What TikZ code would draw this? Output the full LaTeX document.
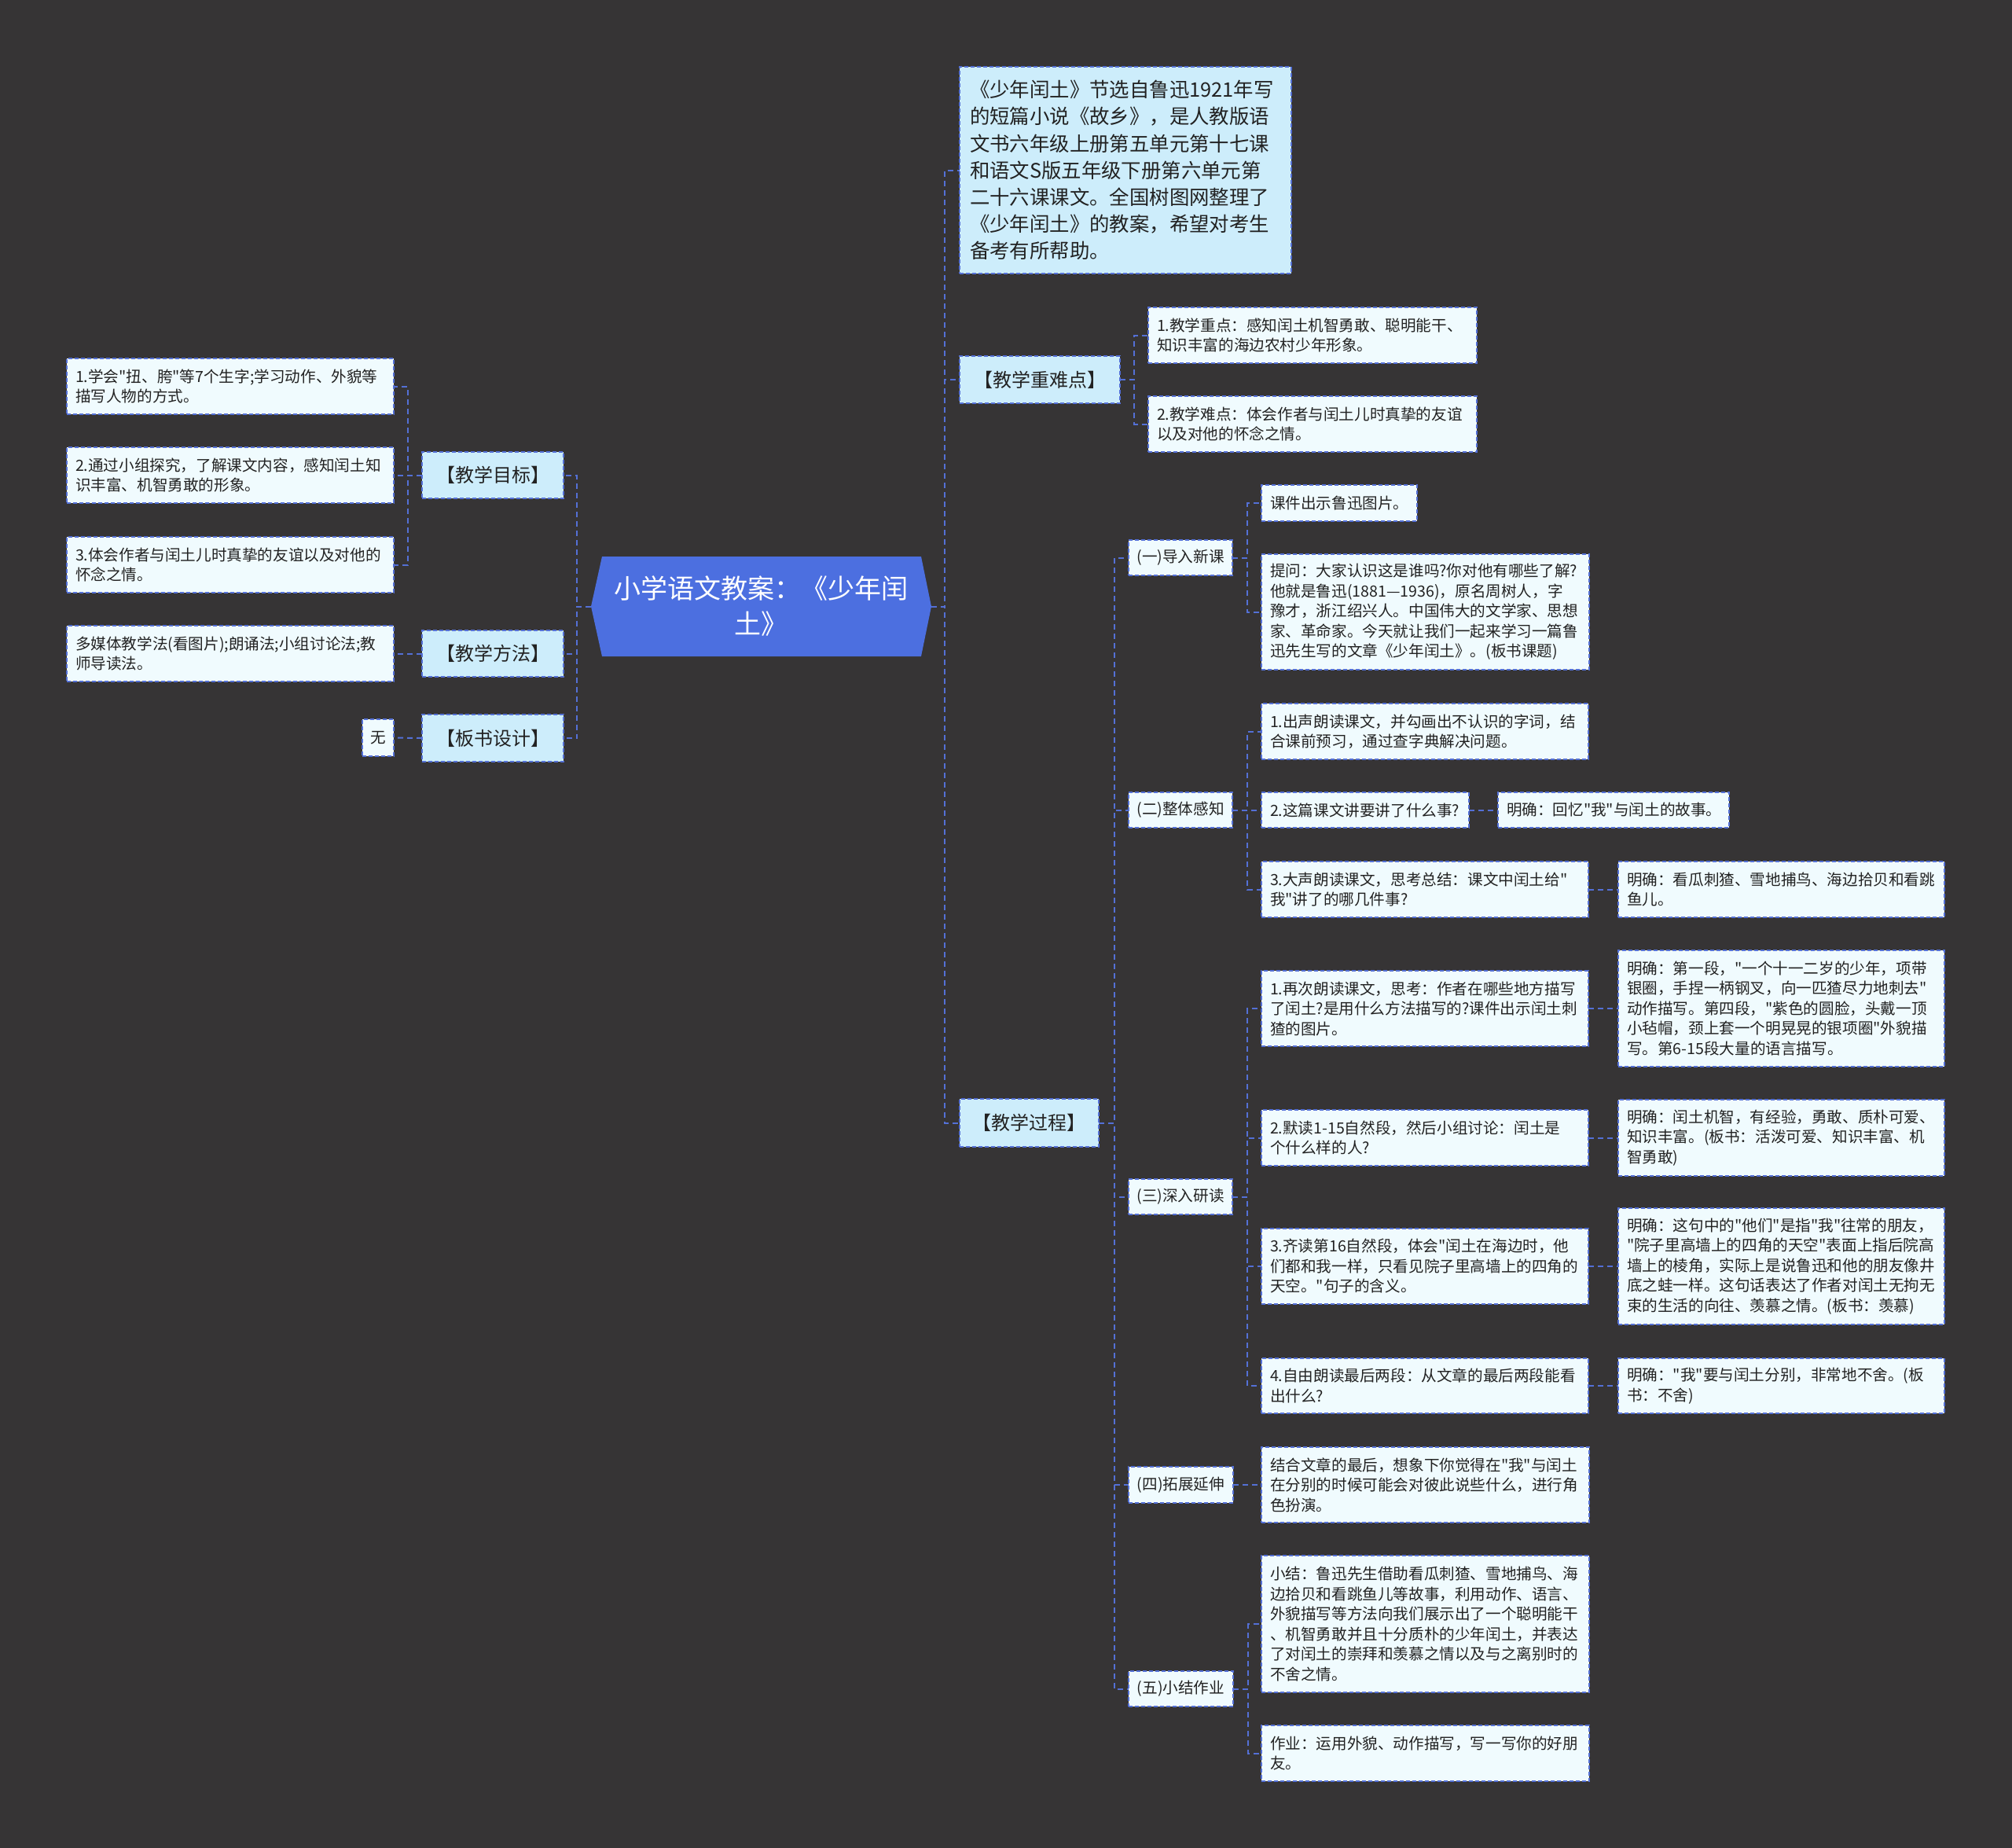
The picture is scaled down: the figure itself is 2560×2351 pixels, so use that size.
\documentclass[tikz,border=0pt]{standalone}
\usepackage{fontspec}
\setmainfont{Noto Sans CJK SC}[Ligatures=TeXOff]
\hyphenpenalty=10000
\exhyphenpenalty=10000
\pgfdeclarelayer{bglayer}
\pgfsetlayers{bglayer,main}
\definecolor{bgc}{RGB}{54,52,53}
\definecolor{linec}{RGB}{84,112,214}
\definecolor{rootc}{RGB}{76,111,224}
\definecolor{lvfill}{RGB}{205,237,251}
\definecolor{leaffill}{RGB}{240,251,254}
\definecolor{txt}{RGB}{34,34,34}
\tikzset{
  conn/.style={draw=linec, line width=2pt, dash pattern=on 7pt off 5pt},
  boxbase/.style={draw=linec, line width=2pt, dash pattern=on 5pt off 3pt, text=txt, anchor=north west, inner ysep=0pt, outer sep=0pt},
  leaf/.style={boxbase, fill=leaffill, font=\fontsize{19.6}{25.5}\selectfont, align=left, inner xsep=11pt},
  descn/.style={boxbase, fill=lvfill, font=\fontsize{25.4}{34.2}\selectfont, align=left, inner xsep=13pt},
  lab/.style={boxbase, fill=lvfill, font=\fontsize{24}{30}\selectfont, align=center, inner xsep=0pt},
  subn/.style={boxbase, fill=leaffill, font=\fontsize{19.6}{25.5}\selectfont, align=center, inner xsep=0pt},
  rootn/.style={text=white, font=\fontsize{34}{45}\selectfont, align=center, minimum width=433pt, minimum height=127pt, inner sep=0pt, outer sep=0pt}
}
\begin{document}
\begin{tikzpicture}[x=1pt,y=-1pt]
\begin{pgfonlayer}{bglayer}
\fill[bgc] (0,0) rectangle (2560,2351);
\end{pgfonlayer}
\useasboundingbox (0,0) rectangle (2560,2351);

% root
\node[rootn] (root) at (968.5,771.5) {小学语文教案：《少年闰\\土》};
\begin{pgfonlayer}{bglayer}
\fill[rootc] (root.west) -- ([xshift=14pt]root.north west) -- ([xshift=-13pt]root.north east) -- (root.east) -- ([xshift=-13pt]root.south east) -- ([xshift=14pt]root.south west) -- cycle;
\end{pgfonlayer}

% left side
\node[lab, minimum width=180pt, minimum height=59pt] (mb) at (537,575) {【教学目标】};
\node[lab, minimum width=180pt, minimum height=59pt] (ff) at (537,802) {【教学方法】};
\node[lab, minimum width=180pt, minimum height=60pt] (bs) at (537,909) {【板书设计】};
\node[leaf, text width=394pt, minimum height=71pt] (mb1) at (85,456) {1.学会"扭、胯"等7个生字;学习动作、外貌等\\描写人物的方式。};
\node[leaf, text width=394pt, minimum height=71pt] (mb2) at (85,569) {2.通过小组探究，了解课文内容，感知闰土知\\识丰富、机智勇敢的形象。};
\node[leaf, text width=394pt, minimum height=71pt] (mb3) at (85,683) {3.体会作者与闰土儿时真挚的友谊以及对他的\\怀念之情。};
\node[leaf, text width=394pt, minimum height=71pt] (ff1) at (85,796) {多媒体教学法(看图片);朗诵法;小组讨论法;教\\师导读法。};
\node[subn, minimum width=40pt, minimum height=47pt] (bs1) at (461,915) {无};

% right side level 1
\node[descn, text width=396pt, minimum height=263pt] (desc) at (1221,85) {《少年闰土》节选自鲁迅1921年写\\的短篇小说《故乡》，是人教版语\\文书六年级上册第五单元第十七课\\和语文S版五年级下册第六单元第\\二十六课课文。全国树图网整理了\\《少年闰土》的教案，希望对考生\\备考有所帮助。};
\node[lab, minimum width=204pt, minimum height=60pt] (zdn) at (1221,453) {【教学重难点】};
\node[lab, minimum width=177pt, minimum height=61pt] (gc) at (1221,1398) {【教学过程】};

\node[leaf, text width=396pt, minimum height=71pt] (zd1) at (1461,391) {1.教学重点：感知闰土机智勇敢、聪明能干、\\知识丰富的海边农村少年形象。};
\node[leaf, text width=396pt, minimum height=71pt] (zd2) at (1461,504) {2.教学难点：体会作者与闰土儿时真挚的友谊\\以及对他的怀念之情。};

% teaching process
\node[subn, minimum width=132pt, minimum height=45pt] (s1) at (1436,687) {(一)导入新课};
\node[subn, minimum width=132pt, minimum height=45pt] (s2) at (1436,1008) {(二)整体感知};
\node[subn, minimum width=132pt, minimum height=45pt] (s3) at (1436,1500) {(三)深入研读};
\node[subn, minimum width=133pt, minimum height=46pt] (s4) at (1436,1866) {(四)拓展延伸};
\node[subn, minimum width=133pt, minimum height=45pt] (s5) at (1436,2126) {(五)小结作业};

\node[leaf, text width=176pt, minimum height=46pt] (s1a) at (1605,617) {课件出示鲁迅图片。};
\node[leaf, text width=395pt, minimum height=147pt] (s1b) at (1605,705) {提问：大家认识这是谁吗?你对他有哪些了解?\\他就是鲁迅(1881—1936)，原名周树人，字\\豫才，浙江绍兴人。中国伟大的文学家、思想\\家、革命家。今天就让我们一起来学习一篇鲁\\迅先生写的文章《少年闰土》。(板书课题)};

\node[leaf, text width=394pt, minimum height=71pt] (s2a) at (1605,895) {1.出声朗读课文，并勾画出不认识的字词，结\\合课前预习，通过查字典解决问题。};
\node[leaf, text width=242pt, minimum height=45pt] (s2b) at (1605,1008) {2.这篇课文讲要讲了什么事?};
\node[leaf, text width=272pt, minimum height=45pt] (s2bm) at (1906,1008) {明确：回忆"我"与闰土的故事。};
\node[leaf, text width=394pt, minimum height=71pt] (s2c) at (1605,1096) {3.大声朗读课文，思考总结：课文中闰土给"\\我"讲了的哪几件事?};
\node[leaf, text width=393pt, minimum height=71pt] (s2cm) at (2059,1096) {明确：看瓜刺猹、雪地捕鸟、海边拾贝和看跳\\鱼儿。};

\node[leaf, text width=394pt, minimum height=96pt] (s3a) at (1605,1235) {1.再次朗读课文，思考：作者在哪些地方描写\\了闰土?是用什么方法描写的?课件出示闰土刺\\猹的图片。};
\node[leaf, text width=393pt, minimum height=148pt] (s3am) at (2059,1209) {明确：第一段，"一个十一二岁的少年，项带\\银圈，手捏一柄钢叉，向一匹猹尽力地刺去"\\动作描写。第四段，"紫色的圆脸，头戴一顶\\小毡帽，颈上套一个明晃晃的银项圈"外貌描\\写。第6-15段大量的语言描写。};
\node[leaf, text width=394pt, minimum height=71pt] (s3b) at (1605,1412) {2.默读1-15自然段，然后小组讨论：闰土是\\个什么样的人?};
\node[leaf, text width=393pt, minimum height=97pt] (s3bm) at (2059,1399) {明确：闰土机智，有经验，勇敢、质朴可爱、\\知识丰富。(板书：活泼可爱、知识丰富、机\\智勇敢)};
\node[leaf, text width=394pt, minimum height=96pt] (s3c) at (1605,1563) {3.齐读第16自然段，体会"闰土在海边时，他\\们都和我一样，只看见院子里高墙上的四角的\\天空。"句子的含义。};
\node[leaf, text width=393pt, minimum height=148pt] (s3cm) at (2059,1537) {明确：这句中的"他们"是指"我"往常的朋友，\\"院子里高墙上的四角的天空"表面上指后院高\\墙上的棱角，实际上是说鲁迅和他的朋友像井\\底之蛙一样。这句话表达了作者对闰土无拘无\\束的生活的向往、羡慕之情。(板书：羡慕)};
\node[leaf, text width=394pt, minimum height=70pt] (s3d) at (1605,1728) {4.自由朗读最后两段：从文章的最后两段能看\\出什么?};
\node[leaf, text width=393pt, minimum height=70pt] (s3dm) at (2059,1728) {明确："我"要与闰土分别，非常地不舍。(板\\书：不舍)};

\node[leaf, text width=395pt, minimum height=96pt] (s4a) at (1605,1841) {结合文章的最后，想象下你觉得在"我"与闰土\\在分别的时候可能会对彼此说些什么，进行角\\色扮演。};
\node[leaf, text width=395pt, minimum height=174pt] (s5a) at (1605,1979) {小结：鲁迅先生借助看瓜刺猹、雪地捕鸟、海\\边拾贝和看跳鱼儿等故事，利用动作、语言、\\外貌描写等方法向我们展示出了一个聪明能干\\、机智勇敢并且十分质朴的少年闰土，并表达\\了对闰土的崇拜和羡慕之情以及与之离别时的\\不舍之情。};
\node[leaf, text width=395pt, minimum height=71pt] (s5b) at (1605,2195) {作业：运用外貌、动作描写，写一写你的好朋\\友。};

% connectors
\foreach \c in {desc,zdn,gc} \draw[conn] (root.east) -- ++(17,0) |- (\c.west);
\foreach \c in {mb,ff,bs} \draw[conn] (root.west) -- ++(-18,0) |- (\c.east);
\foreach \c in {mb1,mb2,mb3} \draw[conn] (mb.west) -- ++(-18,0) |- (\c.east);
\draw[conn] (ff.west) -- (ff1.east);
\draw[conn] (bs.west) -- (bs1.east);
\foreach \c in {zd1,zd2} \draw[conn] (zdn.east) -- ++(18,0) |- (\c.west);
\foreach \c in {s1,s2,s3,s4,s5} \draw[conn] (gc.east) -- ++(20,0) |- (\c.west);
\foreach \c in {s1a,s1b} \draw[conn] (s1.east) -- ++(19,0) |- (\c.west);
\foreach \c in {s2a,s2b,s2c} \draw[conn] (s2.east) -- ++(19,0) |- (\c.west);
\foreach \c in {s3a,s3b,s3c,s3d} \draw[conn] (s3.east) -- ++(19,0) |- (\c.west);
\draw[conn] (s4.east) -- ++(19,0) |- (s4a.west);
\foreach \c in {s5a,s5b} \draw[conn] (s5.east) -- ++(19,0) |- (\c.west);
\draw[conn] (s2b.east) -- (s2bm.west);
\draw[conn] (s2c.east) -- (s2cm.west);
\draw[conn] (s3a.east) -- (s3am.west);
\draw[conn] (s3b.east) -- (s3bm.west);
\draw[conn] (s3c.east) -- (s3cm.west);
\draw[conn] (s3d.east) -- (s3dm.west);
\end{tikzpicture}
\end{document}
